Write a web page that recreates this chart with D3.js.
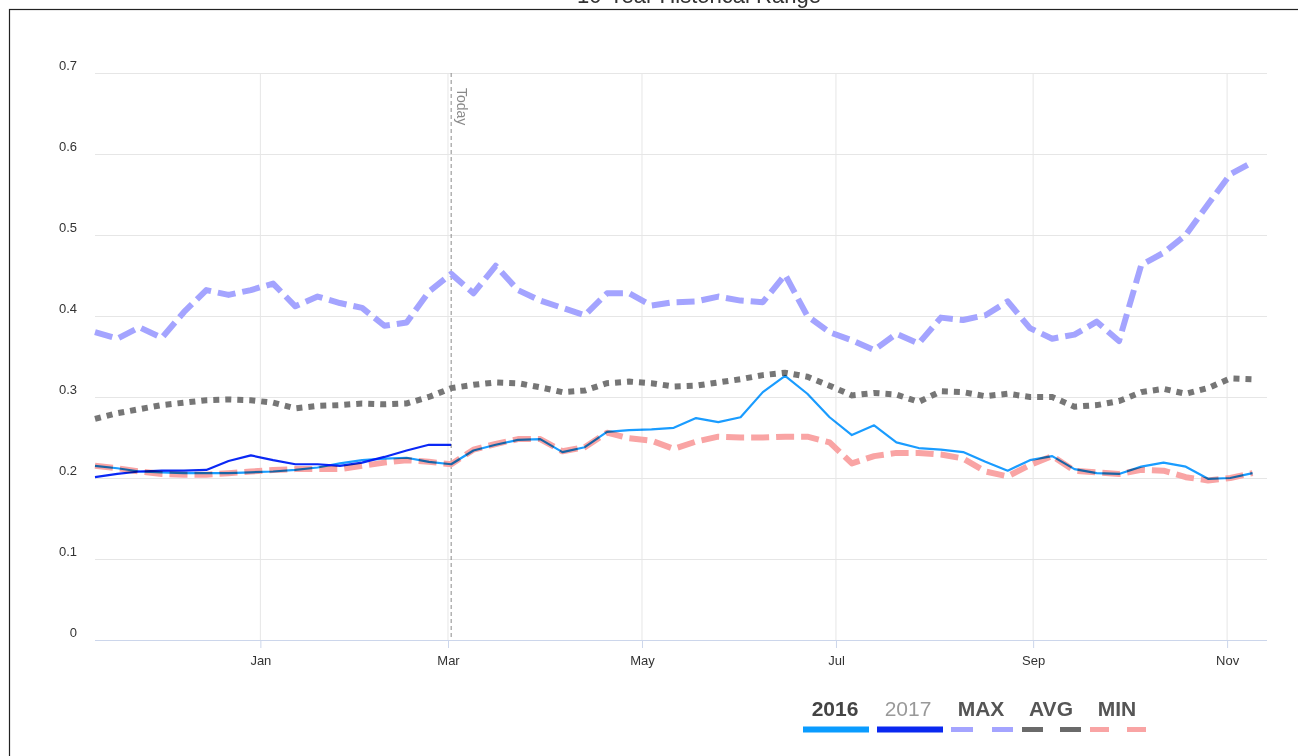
<!DOCTYPE html>
<html>
<head>
<meta charset="utf-8">
<script src="https://cdn.jsdelivr.net/npm/d3@7"></script>
<style>
  html, body { margin: 0; padding: 0; background: #fff; }
  svg { display: block; font-family: "Liberation Sans", Arial, sans-serif; }
</style>
</head>
<body>
<svg id="chart" width="1298" height="756"></svg>
<script>
// ---------- data ----------
const titleText = "10-Year Historical Range";
const weekDates = [
  "2016-11-10","2016-11-17","2016-11-24","2016-12-01","2016-12-08","2016-12-15","2016-12-22","2016-12-29",
  "2017-01-05","2017-01-12","2017-01-19","2017-01-26","2017-02-02","2017-02-09","2017-02-16","2017-02-23",
  "2017-03-02","2017-03-09","2017-03-16","2017-03-23","2017-03-30","2017-04-06","2017-04-13","2017-04-20",
  "2017-04-27","2017-05-04","2017-05-11","2017-05-18","2017-05-25","2017-06-01","2017-06-08","2017-06-15",
  "2017-06-22","2017-06-29","2017-07-06","2017-07-13","2017-07-20","2017-07-27","2017-08-03","2017-08-10",
  "2017-08-17","2017-08-24","2017-08-31","2017-09-07","2017-09-14","2017-09-21","2017-09-28","2017-10-05",
  "2017-10-12","2017-10-19","2017-10-26","2017-11-02","2017-11-09"
];
const maxValues = [
  0.380,0.372,0.386,0.373,0.405,0.432,0.426,0.432,0.440,0.412,0.424,0.416,0.410,0.388,0.392,0.430,
  0.452,0.428,0.462,0.432,0.419,0.410,0.401,0.428,0.428,0.413,0.417,0.418,0.424,0.419,0.417,0.451,
  0.400,0.380,0.370,0.358,0.378,0.366,0.398,0.395,0.401,0.418,0.385,0.372,0.377,0.393,0.369,0.463,
  0.478,0.500,0.538,0.575,0.590
];
const avgValues = [
  0.273,0.280,0.285,0.290,0.293,0.296,0.297,0.296,0.293,0.286,0.289,0.290,0.292,0.291,0.292,0.300,
  0.311,0.315,0.318,0.317,0.312,0.306,0.308,0.317,0.319,0.317,0.313,0.314,0.318,0.322,0.327,0.330,
  0.325,0.314,0.302,0.305,0.303,0.294,0.307,0.306,0.301,0.304,0.300,0.300,0.288,0.290,0.295,0.306,
  0.310,0.304,0.311,0.323,0.322
];
const minValues = [
  0.215,0.212,0.208,0.205,0.204,0.204,0.206,0.208,0.210,0.211,0.211,0.211,0.215,0.219,0.222,0.220,
  0.217,0.235,0.242,0.248,0.248,0.233,0.238,0.256,0.249,0.246,0.236,0.245,0.251,0.250,0.250,0.251,
  0.251,0.244,0.218,0.227,0.231,0.231,0.229,0.224,0.208,0.202,0.216,0.227,0.209,0.207,0.205,0.210,
  0.209,0.201,0.197,0.200,0.206
];
const values2016 = [
  0.215,0.212,0.208,0.207,0.206,0.206,0.206,0.207,0.208,0.210,0.213,0.218,0.222,0.224,0.225,0.220,
  0.217,0.234,0.241,0.247,0.248,0.232,0.238,0.257,0.259,0.260,0.262,0.274,0.269,0.275,0.306,0.326,
  0.304,0.275,0.253,0.265,0.244,0.237,0.235,0.232,0.220,0.209,0.222,0.227,0.211,0.206,0.205,0.214,
  0.219,0.214,0.199,0.200,0.206
];
const values2017 = [
  0.201,0.205,0.208,0.209,0.209,0.210,0.221,0.228,0.222,0.217,0.217,0.215,0.219,0.226,0.234,0.241,0.241
];
const yTicks = [0, 0.1, 0.2, 0.3, 0.4, 0.5, 0.6, 0.7];
const yTickLabels = ["0", "0.1", "0.2", "0.3", "0.4", "0.5", "0.6", "0.7"];
const xTickDates = ["2017-01-01","2017-03-01","2017-05-01","2017-07-01","2017-09-01","2017-11-01"];
const xTickLabels = ["Jan","Mar","May","Jul","Sep","Nov"];
const todayDate = "2017-03-02";
const todayLabel = "Today";
const legendNames = ["2016", "2017", "MAX", "AVG", "MIN"];

// ---------- setup ----------
const parse = d3.utcParse("%Y-%m-%d");
const dates = weekDates.map(parse);
const svg = d3.select("#chart");

const plot = { left: 95, right: 1267, top: 73, bottom: 640 };
const x = d3.scaleUtc()
  .domain([parse("2016-11-10"), new Date(Date.UTC(2017, 10, 13, 13))])
  .range([plot.left, plot.right]);
const y = d3.scaleLinear().domain([0, 0.7]).range([plot.bottom, plot.top]);

// frame
svg.append("rect").attr("x", 9.5).attr("y", 9.5).attr("width", 1300).attr("height", 760)
  .attr("fill", "none").attr("stroke", "#222").attr("stroke-width", 1.2);

// title (clipped at top as in reference)
svg.append("text").attr("x", 699).attr("y", 3).attr("text-anchor", "middle")
  .attr("font-size", 22).attr("fill", "#333").text(titleText);

// horizontal grid + y labels
const yAxis = d3.axisLeft(y).tickValues(yTicks).tickSize(-(plot.right - plot.left))
  .tickFormat((d, i) => yTickLabels[i]);
const gy = svg.append("g").attr("transform", `translate(${plot.left},0)`).call(yAxis);
gy.select(".domain").remove();
gy.selectAll(".tick line").attr("stroke", "#e6e6e6").attr("stroke-width", 1);
gy.selectAll(".tick text").attr("x", -18).attr("dy", "-0.25em")
  .attr("font-size", 13).attr("fill", "#333").attr("font-family", "Liberation Sans, Arial, sans-serif");

// vertical grid
const xVals = xTickDates.map(parse);
svg.append("g").selectAll("line").data(xVals).join("line")
  .attr("x1", d => x(d)).attr("x2", d => x(d))
  .attr("y1", plot.top).attr("y2", plot.bottom)
  .attr("stroke", "#e6e6e6").attr("stroke-width", 1);

// x axis
const xAxis = d3.axisBottom(x).tickValues(xVals).tickSize(8).tickPadding(8)
  .tickFormat((d, i) => xTickLabels[i]);
const gx = svg.append("g").attr("transform", `translate(0,${plot.bottom})`).call(xAxis);
gx.select(".domain").attr("stroke", "#ccd6eb").attr("d", `M${plot.left},0.5H${plot.right}`);
gx.selectAll(".tick line").attr("stroke", "#ccd6eb");
gx.selectAll(".tick text").attr("font-size", 13).attr("fill", "#333")
  .attr("font-family", "Liberation Sans, Arial, sans-serif");

// today line
const tx = x(parse(todayDate));
svg.append("line").attr("x1", tx).attr("x2", tx).attr("y1", plot.top).attr("y2", plot.bottom)
  .attr("stroke", "#8a8a8a").attr("stroke-width", 1).attr("stroke-dasharray", "4,3");
svg.append("text").attr("transform", `translate(${tx + 6},${plot.top + 15}) rotate(90)`)
  .attr("font-size", 14).attr("fill", "#8a8a8a").text(todayLabel);

// series
const line = d3.line().x(d => x(d[0])).y(d => y(d[1]));
const zipped = vals => vals.map((v, i) => [dates[i], v]);

svg.append("path").attr("d", line(zipped(maxValues))).attr("fill", "none")
  .attr("stroke", "#a4a4ff").attr("stroke-width", 6).attr("stroke-dasharray", "18,7")
  .attr("stroke-linejoin", "round");
svg.append("path").attr("d", line(zipped(avgValues))).attr("fill", "none")
  .attr("stroke", "#767676").attr("stroke-width", 6).attr("stroke-dasharray", "6,6");
svg.append("path").attr("d", line(zipped(minValues))).attr("fill", "none")
  .attr("stroke", "#f9a4a4").attr("stroke-width", 6).attr("stroke-dasharray", "18,7")
  .attr("stroke-linejoin", "round");
svg.append("path").attr("d", line(zipped(values2016))).attr("fill", "none")
  .attr("stroke", "#1a9cff").attr("stroke-width", 2.2).attr("stroke-linejoin", "round")
  .style("mix-blend-mode", "multiply");
svg.append("path").attr("d", line(zipped(values2017))).attr("fill", "none")
  .attr("stroke", "#0a28f5").attr("stroke-width", 2.2).attr("stroke-linejoin", "round")
  .style("mix-blend-mode", "multiply");

// legend
const legend = [
  { name: legendNames[0], tx: 835, weight: "bold", color: "#444", sym: { x1: 803, x2: 869, color: "#0a9cff", h: 6, dash: null } },
  { name: legendNames[1], tx: 908, weight: "normal", color: "#999", sym: { x1: 877, x2: 943, color: "#0a28f0", h: 6, dash: null } },
  { name: legendNames[2], tx: 981, weight: "bold", color: "#555", sym: { x1: 951, x2: 1013, color: "#a4a4ff", h: 5, dash: "22,19" } },
  { name: legendNames[3], tx: 1051, weight: "bold", color: "#555", sym: { x1: 1022, x2: 1081, color: "#6a6a6a", h: 5, dash: "21,17" } },
  { name: legendNames[4], tx: 1117, weight: "bold", color: "#555", sym: { x1: 1090, x2: 1146, color: "#f9a4a4", h: 5, dash: "19,18" } }
];
const lg = svg.append("g");
legend.forEach(l => {
  lg.append("text").attr("x", l.tx).attr("y", 716).attr("text-anchor", "middle")
    .attr("font-size", 21).attr("font-weight", l.weight).attr("fill", l.color).text(l.name);
  const ln = lg.append("line").attr("x1", l.sym.x1).attr("x2", l.sym.x2)
    .attr("y1", 729.5).attr("y2", 729.5).attr("stroke", l.sym.color).attr("stroke-width", l.sym.h);
  if (l.sym.dash) ln.attr("stroke-dasharray", l.sym.dash);
});
</script>
</body>
</html>
